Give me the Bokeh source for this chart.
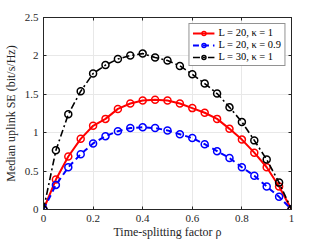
from bokeh.plotting import figure
from bokeh.models import FixedTicker, Legend, LegendItem, ColumnDataSource, LinearAxis
from bokeh.embed import file_html
from bokeh.resources import INLINE

rho = [0.0, 0.05, 0.1, 0.15, 0.2, 0.25, 0.3, 0.35, 0.4, 0.45, 0.5,
       0.55, 0.6, 0.65, 0.7, 0.75, 0.8, 0.85, 0.9, 0.95, 1.0]
se_L20_k1 = [0.0, 0.39, 0.69, 0.92, 1.09, 1.18, 1.31, 1.38, 1.42, 1.43, 1.42,
             1.38, 1.32, 1.26, 1.18, 1.05, 0.91, 0.74, 0.55, 0.30, 0.0]
se_L20_k09 = [0.0, 0.32, 0.55, 0.72, 0.86, 0.955, 1.02, 1.06, 1.07, 1.06, 1.03,
              0.98, 0.93, 0.85, 0.76, 0.67, 0.55, 0.44, 0.30, 0.165, 0.0]
se_L30_k1 = [0.0, 0.77, 1.24, 1.54, 1.77, 1.88, 1.96, 2.005, 2.03, 1.98, 1.94,
             1.87, 1.76, 1.64, 1.51, 1.33, 1.14, 0.90, 0.65, 0.35, 0.0]
labels = ["L = 20, κ = 1", "L = 20, κ = 0.9", "L = 30, κ = 1"]
colors = ["#ff0000", "#0000ff", "#000000"]
dashes = ["solid", "6 4", "7 3 2 3"]
widths = [2.0, 2.0, 1.6]

x_ticks = [0, 0.2, 0.4, 0.6, 0.8, 1]
x_tick_labels = ["0", "0.2", "0.4", "0.6", "0.8", "1"]
y_ticks = [0, 0.5, 1, 1.5, 2, 2.5]
y_tick_labels = ["0", "0.5", "1", "1.5", "2", "2.5"]

FONT = "Liberation Serif"
AX = "#262626"

p = figure(width=321, height=241, x_range=(0, 1), y_range=(0, 2.5),
           output_backend="svg", toolbar_location=None,
           min_border_left=42, min_border_right=30, min_border_top=17, min_border_bottom=32)
p.background_fill_color = "white"
p.outline_line_color = AX
p.outline_line_width = 1

p.xaxis.ticker = FixedTicker(ticks=x_ticks)
p.yaxis.ticker = FixedTicker(ticks=y_ticks)
p.xaxis.major_label_overrides = {t: l for t, l in zip(x_ticks, x_tick_labels)}
p.yaxis.major_label_overrides = {t: l for t, l in zip(y_ticks, y_tick_labels)}
for ax in (p.xaxis, p.yaxis):
    ax.major_label_text_font = FONT
    ax.major_label_text_font_size = "11px"
    ax.major_label_text_color = AX
    ax.axis_label_text_font = FONT
    ax.axis_label_text_font_size = "12px"
    ax.axis_label_text_font_style = "normal"
    ax.axis_label_text_color = AX
    ax.axis_line_color = AX
    ax.major_tick_in = 3
    ax.major_tick_out = 0
    ax.major_tick_line_color = AX
    ax.minor_tick_line_color = None
p.xaxis.major_label_standoff = 5
p.xaxis.axis_label_standoff = 0
p.yaxis.major_label_standoff = 5
p.yaxis.axis_label_standoff = 4
p.xaxis.axis_label = "Time-splitting factor ρ"
p.yaxis.axis_label = "Median uplink SE (bit/s/Hz)"

# mirrored tick marks on top and right (box style), without labels
top_ax = LinearAxis(ticker=FixedTicker(ticks=x_ticks), major_label_text_color=None,
                    major_label_text_font_size="1px",
                    major_tick_in=3, major_tick_out=0, minor_tick_line_color=None,
                    axis_line_color=AX, major_tick_line_color=AX, major_label_standoff=0)
right_ax = LinearAxis(ticker=FixedTicker(ticks=y_ticks), major_label_text_color=None,
                      major_label_text_font_size="1px",
                      major_tick_in=3, major_tick_out=0, minor_tick_line_color=None,
                      axis_line_color=AX, major_tick_line_color=AX, major_label_standoff=0)
p.add_layout(top_ax, "above")
p.add_layout(right_ax, "right")

p.xgrid.ticker = FixedTicker(ticks=x_ticks)
p.ygrid.ticker = FixedTicker(ticks=y_ticks)
p.grid.grid_line_color = "#e8e8e8"
p.grid.grid_line_width = 1

series = [se_L20_k1, se_L20_k09, se_L30_k1]
items = []
for vals, lab, c, d, w in zip(series, labels, colors, dashes, widths):
    src = ColumnDataSource(dict(x=rho, y=vals))
    r1 = p.line("x", "y", source=src, line_color=c, line_width=w, line_dash=d)
    r2 = p.scatter("x", "y", source=src, marker="circle", size=7,
                   line_color=c, line_width=1.5, fill_color="white", fill_alpha=0.0)
    items.append(LegendItem(label=lab, renderers=[r1, r2]))

legend = Legend(items=items, location="top_right")
legend.label_text_font = FONT
legend.label_text_font_size = "10.5px"
legend.label_text_color = "#000000"
legend.label_height = 10
legend.glyph_height = 10
legend.glyph_width = 22
legend.label_standoff = 4
legend.spacing = 1
legend.padding = 3
legend.margin = 6
legend.border_line_color = AX
legend.border_line_width = 1
legend.background_fill_alpha = 1.0
p.add_layout(legend)

open("out.html", "w").write(file_html(p, INLINE))
